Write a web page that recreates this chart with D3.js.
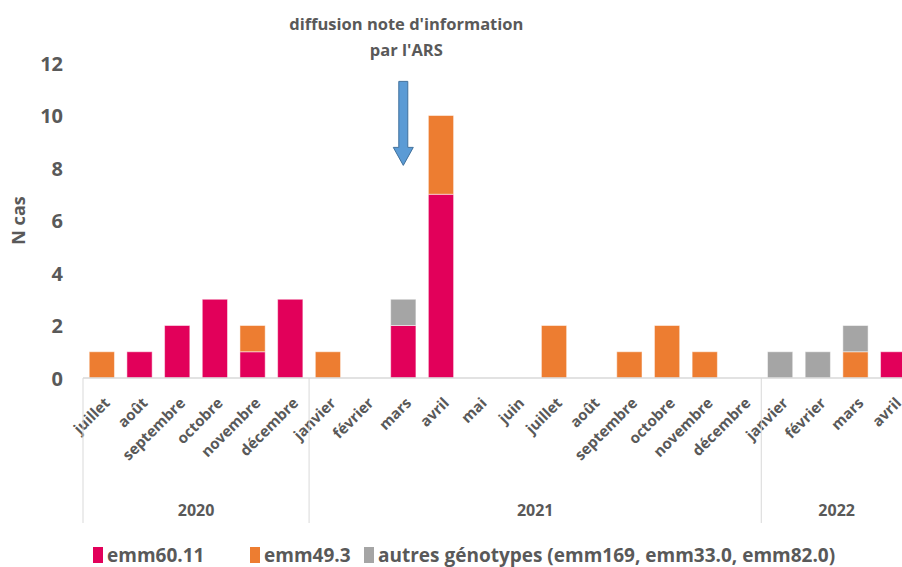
<!DOCTYPE html>
<html>
<head>
<meta charset="utf-8">
<script src="https://cdn.jsdelivr.net/npm/d3@7"></script>
<style>
	body { margin: 0; background: #fff; }
	svg { display: block; font-family: "Open Sans", sans-serif; font-weight: bold; fill: #595959; }
</style>
</head>
<body>
<div id="chart"></div>
<script>
const months = ["juillet", "août", "septembre", "octobre", "novembre", "décembre",
	"janvier", "février", "mars", "avril", "mai", "juin", "juillet", "août",
	"septembre", "octobre", "novembre", "décembre", "janvier", "février", "mars", "avril"];
const monthYears = [2020, 2020, 2020, 2020, 2020, 2020,
	2021, 2021, 2021, 2021, 2021, 2021, 2021, 2021, 2021, 2021, 2021, 2021,
	2022, 2022, 2022, 2022];
const years = [2020, 2021, 2022];

const emm6011 = [0, 1, 2, 3, 1, 3, 0, 0, 2, 7, 0, 0, 0, 0, 0, 0, 0, 0, 0, 0, 0, 1];
const emm493 = [1, 0, 0, 0, 1, 0, 1, 0, 0, 3, 0, 0, 2, 0, 1, 2, 1, 0, 0, 0, 1, 0];
const autres = [0, 0, 0, 0, 0, 0, 0, 0, 1, 0, 0, 0, 0, 0, 0, 0, 0, 0, 1, 1, 1, 0];

const seriesNames = ["emm60.11", "emm49.3", "autres génotypes (emm169, emm33.0, emm82.0)"];
const seriesColors = ["#e2005a", "#ed7d31", "#a5a5a5"];
const yTicks = [0, 2, 4, 6, 8, 10, 12];

// annotation : flèche au-dessus de mars 2021
const noteIndex = 8;
const noteLines = ["diffusion note d'information", "par l'ARS"];
const arrowFrom = 11.3, arrowTo = 8.1;

const width = 902, height = 567;
const margin = { top: 63, left: 83, bottom: 189 };
const plotRight = 912;

const keys = months.map((m, i) => i);
const table = keys.map(i => ({ i, a: emm6011[i], b: emm493[i], c: autres[i] }));
const stack = d3.stack().keys(["a", "b", "c"])(table);

const svg = d3.select("#chart").append("svg")
	.attr("width", width)
	.attr("height", height);

const x = d3.scaleBand().domain(keys).range([margin.left, plotRight]).paddingInner(0.33).paddingOuter(0.165);
const y = d3.scaleLinear().domain([0, 12]).range([height - margin.bottom, margin.top]);

// axe Y (sans ligne)
svg.append("g")
	.attr("transform", `translate(${margin.left - 20},0)`)
	.call(d3.axisLeft(y).tickValues(yTicks).tickSize(0).tickPadding(0))
	.call(g => g.select(".domain").remove())
	.selectAll("text")
	.attr("fill", "#595959")
	.attr("dy", "0.35em")
	.style("font-size", "20px")
	.style("font-weight", "bold")
	.style("font-family", "Open Sans, sans-serif");

svg.append("text")
	.attr("transform", `translate(25, ${y(6)}) rotate(-90)`)
	.attr("text-anchor", "middle")
	.style("font-size", "18px")
	.text("N cas");

// barres empilées
svg.append("g")
	.selectAll("g")
	.data(stack)
	.join("g")
	.attr("fill", (d, k) => seriesColors[k])
	.selectAll("rect")
	.data(d => d.filter(v => v[1] > v[0]))
	.join("rect")
	.attr("x", d => x(d.data.i))
	.attr("width", x.bandwidth())
	.attr("y", d => y(d[1]))
	.attr("height", d => y(d[0]) - y(d[1]))
	.attr("stroke", "#fff")
	.attr("stroke-opacity", 0.5)
	.attr("stroke-width", 1);

// ligne de base
const baseY = y(0);
svg.append("line")
	.attr("x1", margin.left).attr("x2", plotRight)
	.attr("y1", baseY).attr("y2", baseY)
	.attr("stroke", "#d9d9d9").attr("stroke-width", 1.5);

// libellés des mois (rotation -45°)
svg.append("g")
	.selectAll("text")
	.data(keys)
	.join("text")
	.attr("transform", i => `translate(${x(i) + x.bandwidth() / 2 + 9},${baseY + 26}) rotate(-45)`)
	.attr("text-anchor", "end")
	.style("font-size", "15px")
	.text(i => months[i]);

// séparateurs et années
const yearSpans = years.map(yr => {
	const idx = keys.filter(i => monthYears[i] === yr);
	const half = x.step() * x.paddingInner() / 2;
	return { yr, start: x(idx[0]) - half, end: x(idx[idx.length - 1]) + x.bandwidth() + half };
});
svg.append("g")
	.selectAll("line")
	.data(yearSpans)
	.join("line")
	.attr("x1", d => d.start).attr("x2", d => d.start)
	.attr("y1", baseY).attr("y2", baseY + 145)
	.attr("stroke", "#d9d9d9").attr("stroke-width", 1);

svg.append("g")
	.selectAll("text")
	.data(yearSpans)
	.join("text")
	.attr("x", d => (d.start + d.end) / 2)
	.attr("y", baseY + 138)
	.attr("text-anchor", "middle")
	.style("font-size", "16px")
	.text(d => d.yr);

// annotation
const ax = x(noteIndex) + x.bandwidth() / 2;
svg.append("text")
	.attr("text-anchor", "middle")
	.style("font-size", "16.5px")
	.selectAll("tspan")
	.data(noteLines)
	.join("tspan")
	.attr("x", ax + 3)
	.attr("y", (d, i) => 30 + i * 26)
	.text(d => d);

const y0 = y(arrowFrom), y1 = y(arrowTo);
const sw = 4.5, hw = 10, hl = 18;
svg.append("path")
	.attr("d", `M${ax - sw},${y0} L${ax + sw},${y0} L${ax + sw},${y1 - hl} L${ax + hw},${y1 - hl} L${ax},${y1} L${ax - hw},${y1 - hl} L${ax - sw},${y1 - hl} Z`)
	.attr("fill", "#5b9bd5")
	.attr("stroke", "#41719c")
	.attr("stroke-width", 1);

// légende
const legendX = [93, 250, 364];
const legend = svg.append("g")
	.selectAll("g")
	.data(seriesNames)
	.join("g")
	.attr("transform", (d, k) => `translate(${legendX[k]}, 547)`);
legend.append("rect")
	.attr("width", 10).attr("height", 16).attr("y", 0)
	.attr("fill", (d, k) => seriesColors[k]);
legend.append("text")
	.attr("x", 14).attr("y", 15)
	.style("font-size", "19px")
	.text(d => d);
</script>
</body>
</html>
